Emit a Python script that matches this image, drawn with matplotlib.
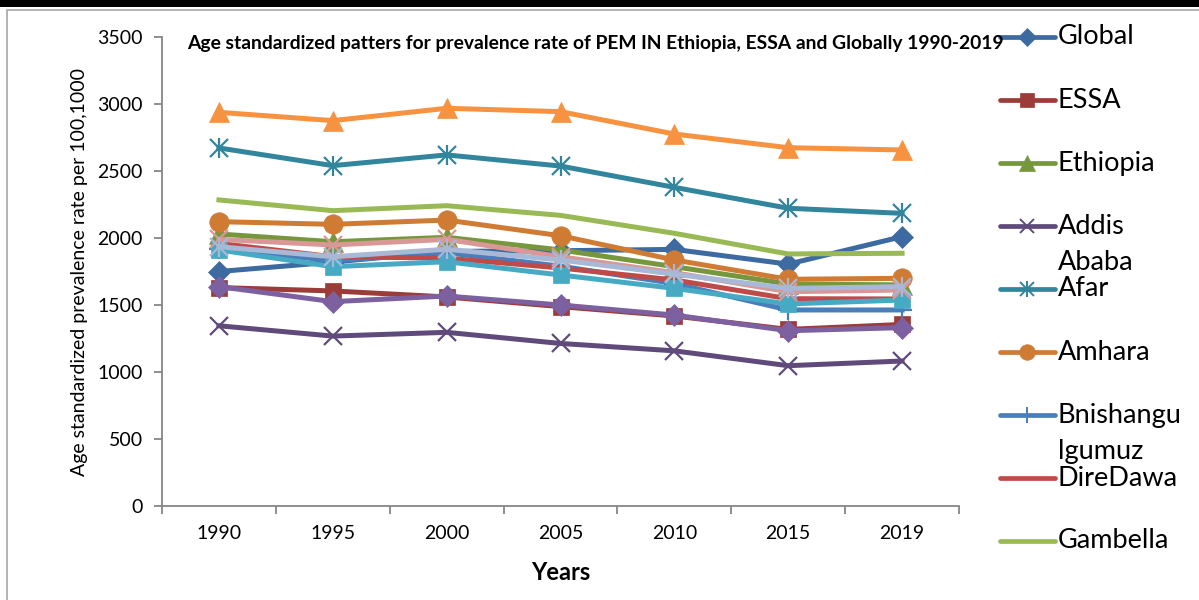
import numpy as np
import matplotlib.pyplot as plt
from matplotlib.patches import Rectangle

plt.rcParams['font.family'] = ['Lato', 'DejaVu Sans']

years = ['1990', '1995', '2000', '2005', '2010', '2015', '2019']

global_rate = [1750, 1820, 1900, 1905, 1915, 1805, 2010]
essa = [1630, 1605, 1560, 1488, 1418, 1318, 1355]
ethiopia = [2030, 1972, 2005, 1911, 1786, 1657, 1650]
addis_ababa = [1345, 1268, 1296, 1213, 1158, 1047, 1082]
afar = [2672, 2540, 2620, 2537, 2378, 2222, 2184]
amhara = [2122, 2102, 2134, 2017, 1836, 1692, 1699]
benishangul = [1920, 1830, 1890, 1790, 1660, 1463, 1463]
dire_dawa = [1960, 1860, 1850, 1776, 1687, 1547, 1545]
gambella = [2284, 2204, 2241, 2169, 2035, 1881, 1886]
harari = [1637, 1525, 1567, 1500, 1425, 1308, 1331]
oromia = [1911, 1786, 1823, 1724, 1624, 1508, 1537]
somali = [2938, 2876, 2968, 2943, 2776, 2674, 2657]
snnp = [1990, 1948, 1990, 1860, 1741, 1599, 1612]
tigray = [1935, 1860, 1916, 1836, 1730, 1624, 1637]

names = ['Global', 'ESSA', 'Ethiopia', 'Addis\nAbaba', 'Afar', 'Amhara',
         'Bnishangu\nlgumuz', 'DireDawa', 'Gambella', 'Harari', 'Oromia',
         'Somali', 'SNNP', 'Tigray']
series = [global_rate, essa, ethiopia, addis_ababa, afar, amhara, benishangul,
          dire_dawa, gambella, harari, oromia, somali, snnp, tigray]

colors = ['#3D6AA1', '#9C3C38', '#77973D', '#604A7B', '#31859C', '#CF7B33',
          '#4A7EBB', '#BE4B48', '#98B954', '#7D60A0', '#46AAC5', '#F69240',
          '#D99795', '#A7B9D7']
# 'ast' = excel style asterisk: an x with a vertical bar through it
markers = ['D', 's', '^', 'x', 'ast', 'o', '+', 'None', 'None', 'D', 's', '^', 'x', 'ast']
msizes = [11, 12, 14, 13, 13, 14, 14, 0, 0, 11, 12, 14, 13, 13]


def draw_marker(target, xs, ys, m, c, ms, mew_thin, **kw):
    if m == 'ast':
        target.plot(xs, ys, ls='none', marker='x', markersize=ms,
                    markeredgewidth=mew_thin, color=c, **kw)
        target.plot(xs, ys, ls='none', marker='|', markersize=ms * 1.15,
                    markeredgewidth=mew_thin, color=c, **kw)
    elif m != 'None':
        mew = mew_thin if m in ('x', '+') else 0.5
        target.plot(xs, ys, ls='none', marker=m, markersize=ms,
                    markeredgewidth=mew, markeredgecolor=c, color=c, **kw)


fig = plt.figure(figsize=(11.99, 6.0), dpi=100)
W, H = 1199.0, 600.0

ax = fig.add_axes([162 / W, 1 - 506 / H, (959 - 162) / W, (506 - 37) / H])

x = np.arange(len(years))
for k, (vals, c, m, ms) in enumerate(zip(series, colors, markers, msizes)):
    ax.plot(x, vals, color=c, lw=3.6, solid_joinstyle='round', zorder=2 + k * 0.01)
    draw_marker(ax, x, vals, m, c, ms, 1.6, zorder=2 + k * 0.01)

axis_grey = '#868686'
ax.set_xlim(-0.5, len(years) - 0.5)
ax.set_ylim(0, 3500)
ax.set_yticks(np.arange(0, 3501, 500))
ax.set_xticks(x)
ax.set_xticklabels(years)
ax.set_xticks(np.arange(-0.5, len(years)), minor=True)
ax.tick_params(axis='x', which='major', length=0, pad=14, labelsize=14)
ax.tick_params(axis='x', which='minor', length=6, width=1.3, color=axis_grey)
ax.tick_params(axis='y', length=6, width=1.3, color=axis_grey, pad=8, labelsize=14)
for side in ['top', 'right']:
    ax.spines[side].set_visible(False)
for side in ['left', 'bottom']:
    ax.spines[side].set_color(axis_grey)
    ax.spines[side].set_linewidth(1.3)
ax.patch.set_alpha(0)

fig.text(187 / W, 1 - 43 / H,
         'Age standardized patters for prevalence rate of PEM IN Ethiopia, ESSA and Globally 1990-2019',
         fontsize=13.9, fontweight='bold', va='center', ha='left')
fig.text(80 / W, 1 - 272 / H, 'Age standardized prevalence rate per 100,1000',
         rotation=90, fontsize=14, va='center', ha='center')
fig.text(561 / W, 1 - 572 / H, 'Years', fontsize=17, fontweight='bold',
         va='center', ha='center')

# page frame and the heavy rule across the top
fig.add_artist(Rectangle((7 / W, -0.05), 1.2, (600 - 10) / H + 0.05,
                         transform=fig.transFigure, fill=False,
                         edgecolor='#A6A6A6', lw=1.2))
fig.add_artist(Rectangle((0, 1 - 7 / H), 1, 7 / H, transform=fig.transFigure,
                         facecolor='black', edgecolor='none'))

# legend on the right, only the first nine entries fit on the page
lax = fig.add_axes([0, 0, 1, 1])
lax.set_xlim(0, W)
lax.set_ylim(H, 0)
lax.axis('off')
for i in range(9):
    yc = 37 + 63 * i
    lax.plot([1000, 1055], [yc, yc], color=colors[i], lw=3.4,
             solid_capstyle='round', zorder=5)
    draw_marker(lax, [1027], [yc], markers[i], colors[i], msizes[i] * 0.8, 1.4, zorder=6)
    for j, line in enumerate(names[i].split('\n')):
        lax.text(1058, yc + j * 36, line, fontsize=19.5,
                 va='center', ha='left', zorder=6)

fig.savefig('out.png', dpi=100)
